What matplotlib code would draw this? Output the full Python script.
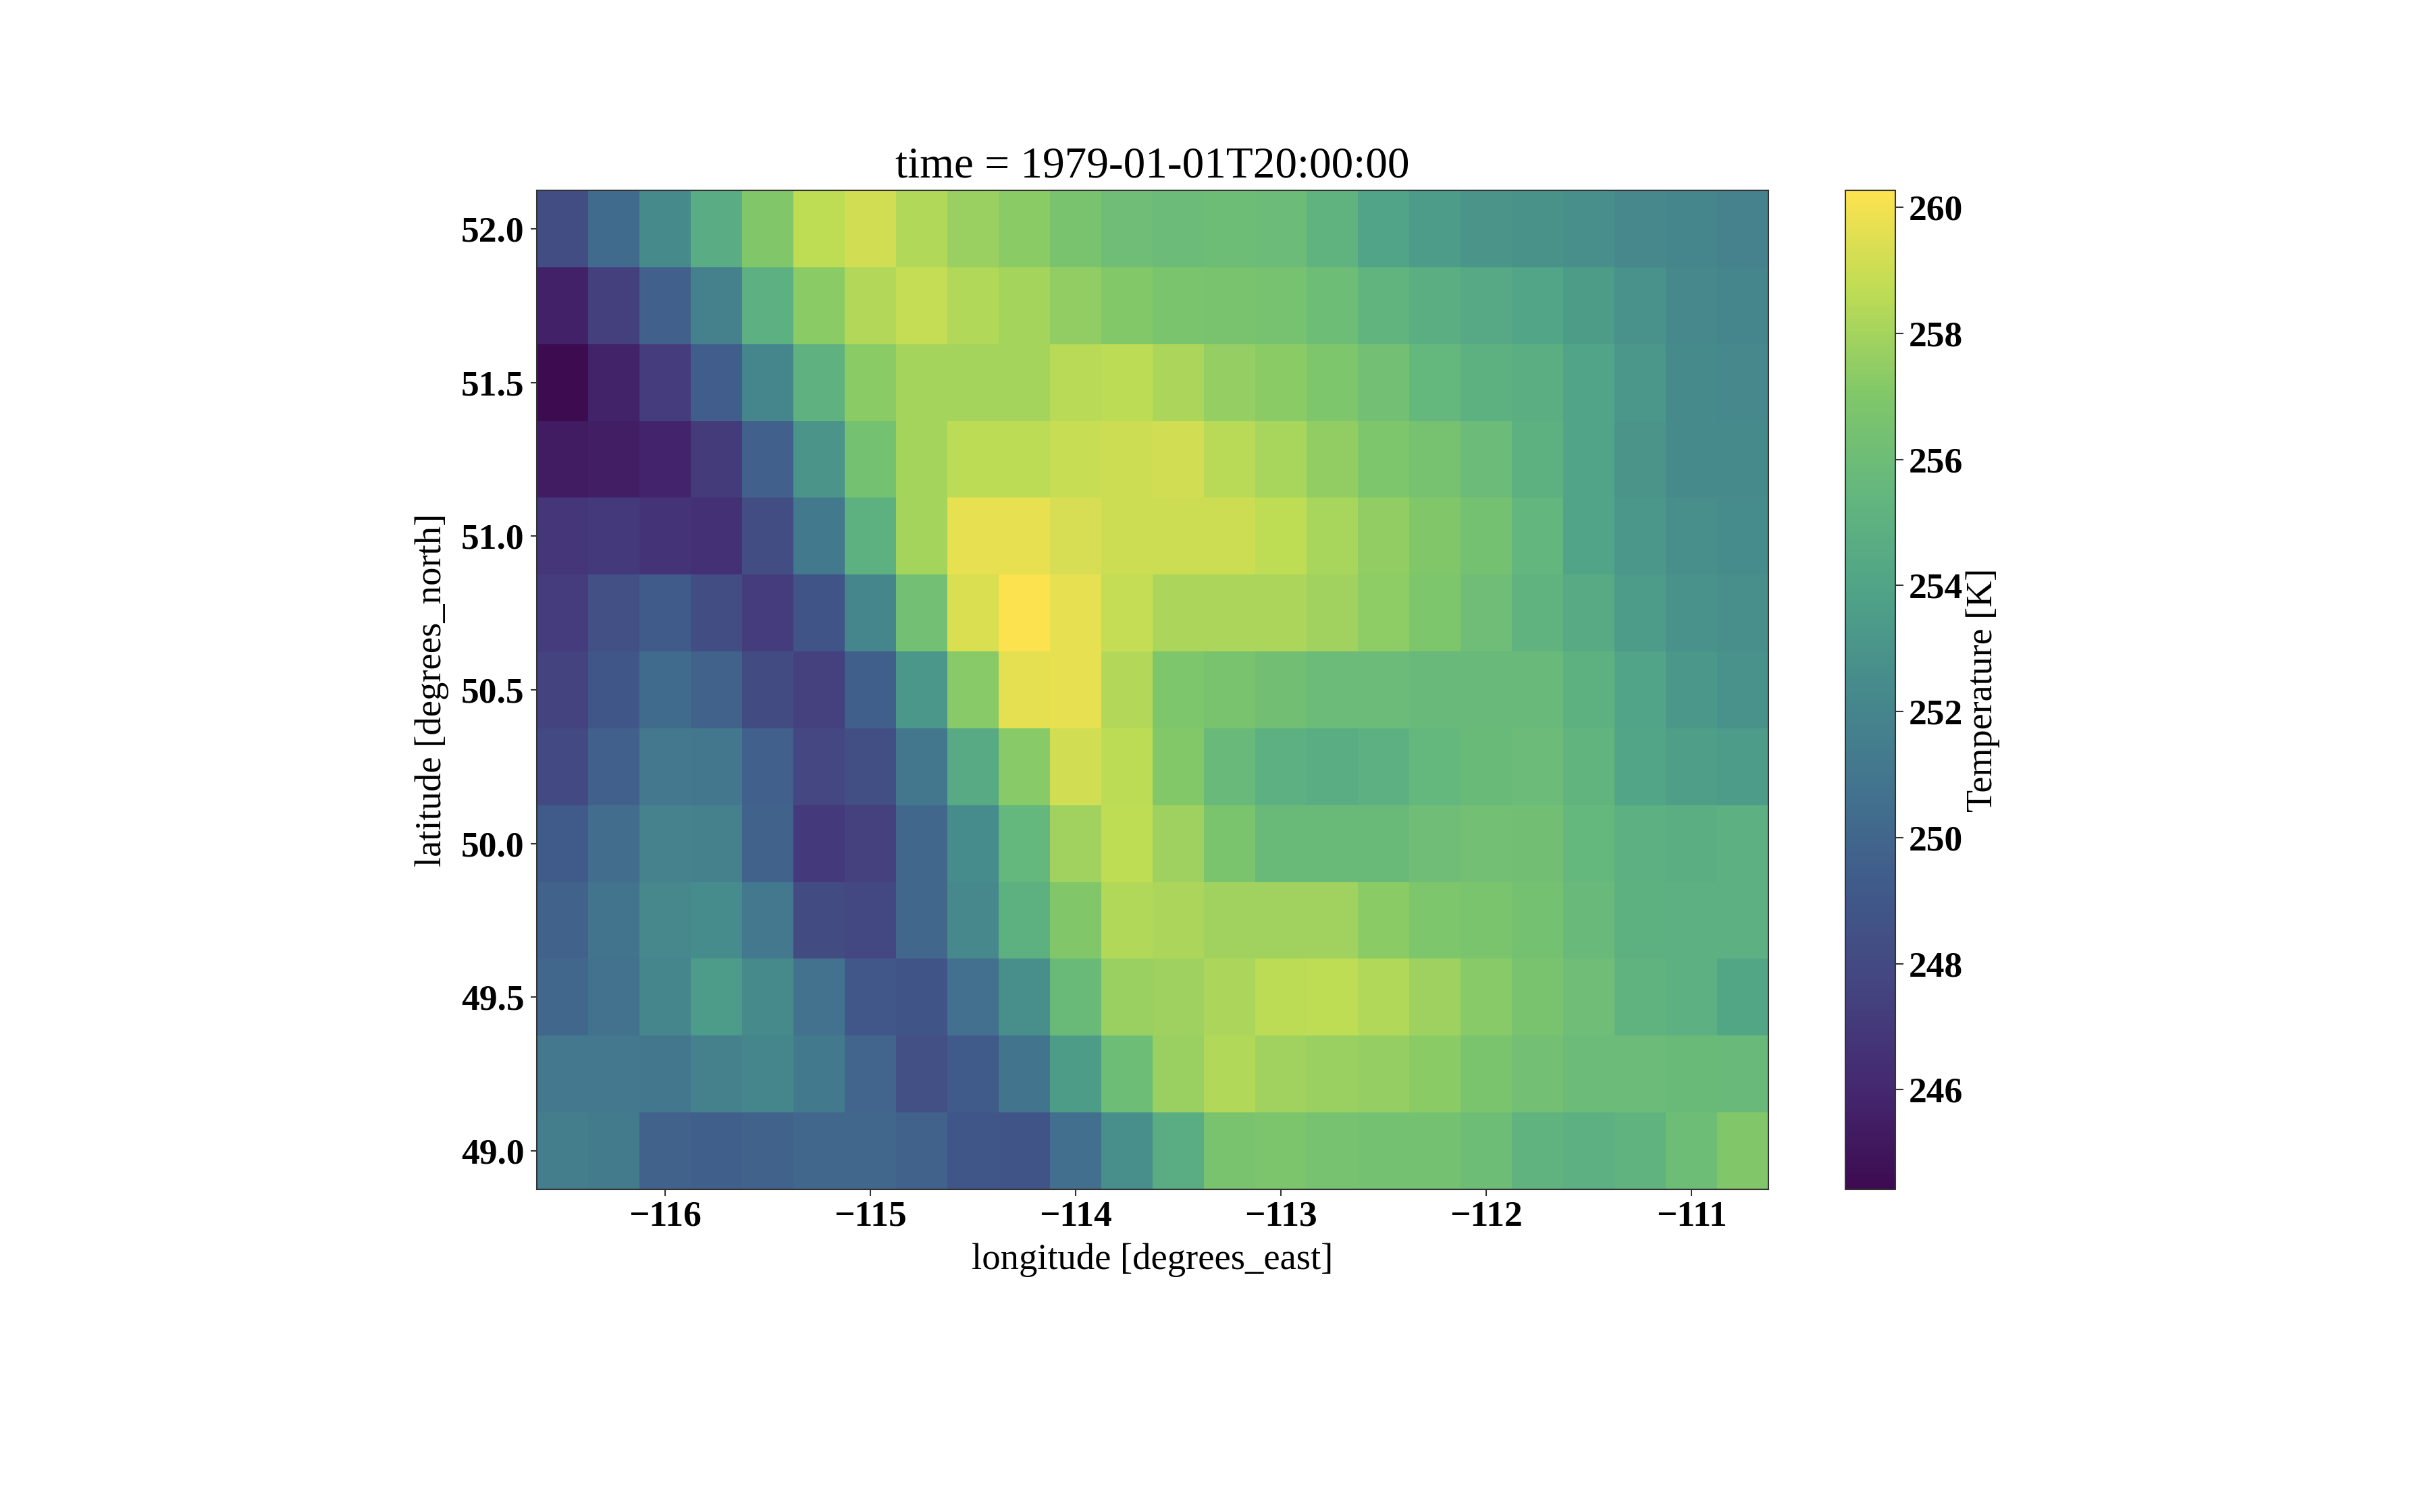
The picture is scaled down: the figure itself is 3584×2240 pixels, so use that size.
import numpy as np
import matplotlib
matplotlib.use("Agg")
import matplotlib.pyplot as plt
from matplotlib.colors import LinearSegmentedColormap

plt.rcParams['font.family'] = ['Liberation Serif', 'DejaVu Serif']

# latitude rows from north (top) to south (bottom), longitude columns west to east
lon_edges = [-116.625 + 0.25 * i for i in range(25)]
lat_edges = [52.125 - 0.25 * i for i in range(14)]

row_520 = [248.2,250.3,252.4,254.6,257.0,258.7,259.1,258.3,257.7,257.3,256.6,256.1,255.9,256.0,255.9,255.2,254.0,253.4,253.0,252.9,252.6,252.2,252.0,251.8]
row_518 = [245.6,247.3,249.6,251.7,254.9,257.3,258.4,258.8,258.3,258.0,257.5,257.1,256.7,256.6,256.5,256.0,255.3,254.8,254.4,254.1,253.5,252.8,252.2,252.0]
row_515 = [244.42,245.7,247.2,249.4,252.0,255.1,257.3,258.0,258.0,258.0,258.5,258.6,258.2,257.6,257.3,256.9,256.3,255.5,255.0,254.8,254.0,253.2,252.4,252.2]
row_513 = [245.4,245.5,245.8,247.1,249.6,253.0,256.4,258.0,258.6,258.6,258.9,259.0,259.1,258.5,258.1,257.5,256.9,256.5,255.9,255.0,254.0,253.0,252.3,252.3]
row_510 = [246.8,247.0,246.7,246.5,248.2,251.2,255.0,258.0,259.7,259.7,259.3,259.0,259.0,259.0,258.7,258.1,257.5,257.0,256.4,255.4,254.0,253.2,252.6,252.5]
row_508 = [247.2,248.5,249.3,248.2,247.2,248.7,252.0,256.3,259.4,260.27,259.7,258.8,258.2,258.2,258.2,257.9,257.4,256.9,256.1,255.2,254.5,253.4,252.8,252.7]
row_505 = [247.5,248.9,250.3,249.8,248.1,247.4,249.5,253.2,257.2,259.6,259.7,258.4,256.9,256.6,256.2,255.9,255.9,255.7,255.7,255.7,255.0,254.0,253.2,252.8]
row_503 = [248.0,249.6,251.1,251.0,249.6,247.8,248.4,251.0,254.5,257.2,259.1,258.6,257.1,255.7,254.9,254.7,254.9,255.5,255.8,255.9,255.3,254.1,253.6,253.4]
row_500 = [249.3,250.4,251.8,251.7,249.7,247.0,247.4,250.1,252.5,255.5,257.9,258.7,257.8,256.7,255.8,255.8,255.8,256.1,256.3,256.2,255.5,254.9,254.8,254.9]
row_498 = [249.7,250.8,252.2,252.5,251.1,248.1,247.9,250.1,252.2,255.0,257.0,258.3,258.2,257.9,257.9,257.9,257.3,256.9,256.7,256.4,255.7,255.0,254.9,254.9]
row_495 = [250.0,250.7,252.0,253.4,252.4,250.7,249.0,248.7,250.6,252.7,255.8,257.7,257.8,258.2,258.6,258.7,258.3,257.8,257.2,256.6,256.1,255.2,254.9,254.2]
row_493 = [251.1,251.1,251.0,251.7,252.0,251.2,249.9,248.5,249.2,250.8,253.5,256.0,257.7,258.3,257.9,257.7,257.6,257.3,256.7,256.3,255.9,255.9,255.8,255.7]
row_490 = [251.5,251.3,249.7,249.5,249.8,250.1,250.1,249.8,248.9,248.7,250.5,252.6,254.7,256.6,256.8,256.5,256.4,256.4,256.0,255.2,254.9,255.2,256.0,257.0]
temperature = [row_520,row_518,row_515,row_513,row_510,row_508,row_505,row_503,row_500,row_498,row_495,row_493,row_490]

x_ticks = [-116,-115,-114,-113,-112,-111]
y_ticks = [49.0,49.5,50.0,50.5,51.0,51.5,52.0]
cbar_ticks = [246,248,250,252,254,256,258,260]

# viridis as it appears in the reference (slightly washed out)
stops = [(61,11,80),(68,40,112),(68,68,128),(64,90,138),(66,115,142),(70,138,140),
         (80,163,135),(100,183,125),(130,200,105),(190,220,85),(253,226,79)]
cmap = LinearSegmentedColormap.from_list('soft_viridis', [tuple(c/255 for c in s) for s in stops])

W, H = 3584, 2240
fig = plt.figure(figsize=(W/100, H/100), dpi=100)
ax = fig.add_axes([795/W, 1-1762/H, (2619-795)/W, (1762-282)/H])
cax = fig.add_axes([2733/W, 1-1762/H, (2807-2733)/W, (1762-282)/H])

mesh = ax.pcolormesh(lon_edges, lat_edges, np.array(temperature), cmap=cmap,
                     vmin=244.42, vmax=260.27, shading='flat')
ax.set_xticks(x_ticks)
ax.set_yticks(y_ticks)
ax.set_yticklabels([f'{v:.1f}' for v in y_ticks])
ax.set_xlim(lon_edges[0], lon_edges[-1])
ax.set_ylim(lat_edges[-1], lat_edges[0])

cb = fig.colorbar(mesh, cax=cax)
cb.set_ticks(cbar_ticks)
cb.set_label('Temperature [K]', fontsize=39, labelpad=3)
cb.outline.set_linewidth(1.5)
cb.outline.set_edgecolor('#333333')

ax.tick_params(axis='y', length=6.2, width=1.5, labelsize=38.5, pad=7, color='#333333')
ax.tick_params(axis='x', length=7.5, width=1.5, labelsize=38.5, pad=4.5, color='#333333')
cax.tick_params(length=8.5, width=1.5, labelsize=38.5, pad=6, color='#333333')
for a in (ax, cax):
    for lab in a.get_xticklabels() + a.get_yticklabels():
        lab.set_fontweight('bold')
for s in ax.spines.values():
    s.set_linewidth(1.5)
    s.set_edgecolor('#333333')

ax.set_xlabel('longitude [degrees_east]', fontsize=39.3, labelpad=11)
ax.set_ylabel('latitude [degrees_north]', fontsize=39.3, labelpad=13)
ax.set_title('time = 1979-01-01T20:00:00', fontsize=47, pad=14)

fig.savefig('out.png', dpi=100, facecolor='white')
